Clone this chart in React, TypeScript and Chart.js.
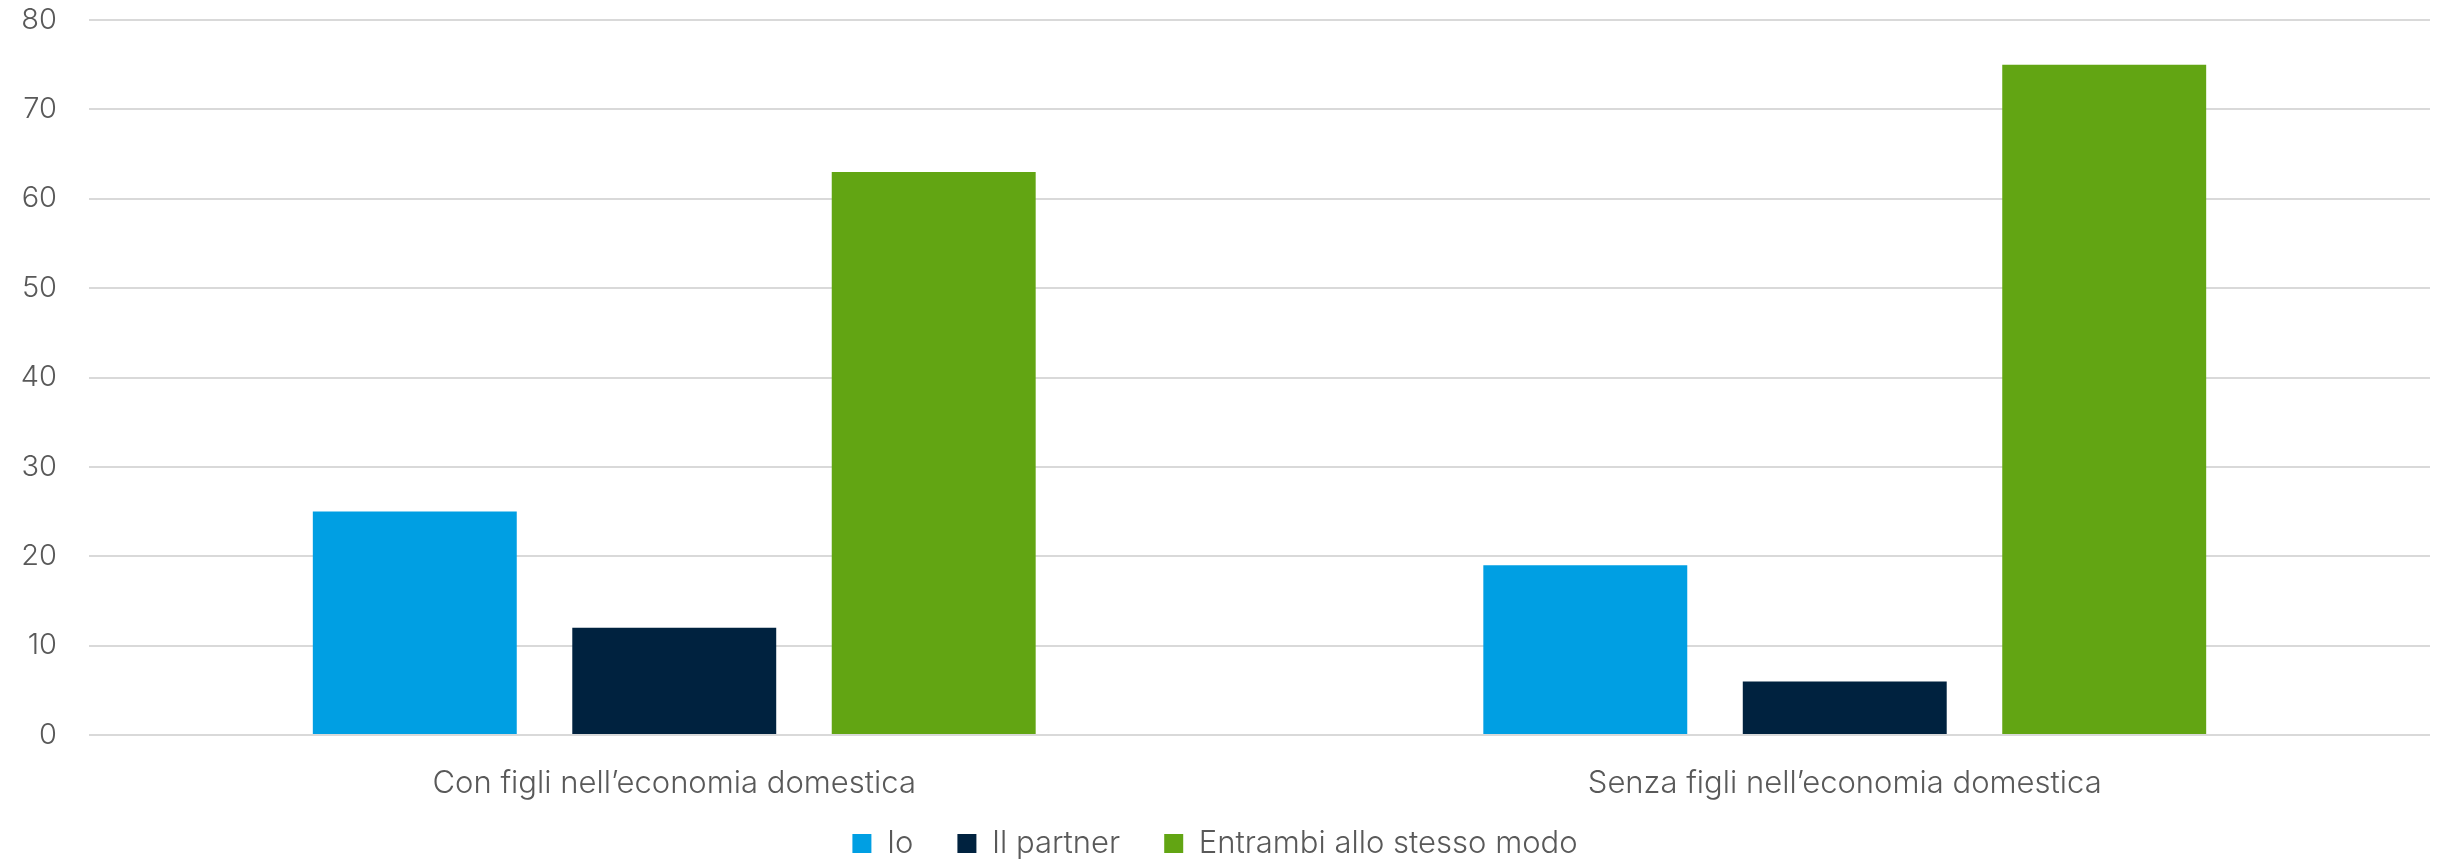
import React, { useEffect, useRef } from "react";
import { Chart, registerables } from "chart.js";

Chart.register(...registerables);

const categories = ["Con figli nell\u2019economia domestica", "Senza figli nell\u2019economia domestica"];
const seriesNames = ["Io", "Il partner", "Entrambi allo stesso modo"];
const ioValues = [25, 19];
const partnerValues = [12, 6];
const entrambiValues = [63, 75];
const colors = ["#009FE3", "#00223F", "#62A513"];
const yTicks = [0, 10, 20, 30, 40, 50, 60, 70, 80];

const FONT = "Inter, 'Noto Sans', sans-serif";
const TEXT = "#595959";
const FS_Y = 29;
const FS = 31;

const legendHeightPlugin = {
  id: "legendHeight",
  beforeLayout(chart: any) {
    const lg = chart.legend;
    if (lg && !lg._patchedFit) {
      const orig = lg.fit;
      lg.fit = function () {
        orig.call(this);
        this.height = 76;
      };
      lg._patchedFit = true;
    }
  },
};

export default function App() {
  const ref = useRef<HTMLCanvasElement | null>(null);
  useEffect(() => {
    if (!ref.current) return;
    const chart = new Chart(ref.current, {
      type: "bar",
      data: {
        labels: categories,
        datasets: [ioValues, partnerValues, entrambiValues].map((d, i) => ({
          label: seriesNames[i],
          data: d,
          backgroundColor: colors[i],
          borderWidth: 0,
          categoryPercentage: 0.665,
          barPercentage: 0.786,
        })),
      },
      options: {
        animation: false,
        responsive: false,
        maintainAspectRatio: false,
        layout: { padding: { left: 0, right: 10, top: 20, bottom: 0 } },
        plugins: {
          legend: {
            position: "bottom",
            labels: {
              boxWidth: 19,
              boxHeight: 19,
              padding: 44,
              color: TEXT,
              font: { family: FONT, size: FS, weight: 300 },
            },
          },
          tooltip: { enabled: false },
        },
        scales: {
          x: {
            grid: { display: false },
            border: { display: false },
            ticks: { color: TEXT, padding: 22, font: { family: FONT, size: FS, weight: 300 } },
            afterFit: (axis: any) => {
              axis.paddingLeft = 0;
              axis.paddingRight = 0;
              axis.height = 49;
              axis._computeLabelArea = () => undefined;
            },
          },
          y: {
            min: 0,
            max: 80,
            afterBuildTicks: (axis: any) => {
              axis.ticks = yTicks.map((v) => ({ value: v }));
            },
            grid: { color: "#d9d9d9", lineWidth: 2, drawTicks: false },
            border: { display: false },
            ticks: { color: TEXT, padding: 32, font: { family: FONT, size: FS_Y, weight: 300 } },
            afterFit: (axis: any) => {
              axis.paddingTop = 0;
              axis.paddingBottom = 0;
              axis.width = 89;
              axis._computeLabelArea = () => undefined;
            },
          },
        },
      },
      plugins: [legendHeightPlugin],
    });
    return () => chart.destroy();
  }, []);
  return (
    <div style={{ position: "fixed", left: 0, top: 0, width: 2440, height: 860, background: "#fff" }}>
      <canvas ref={ref} width={2440} height={860} style={{ width: 2440, height: 860 }} />
    </div>
  );
}
